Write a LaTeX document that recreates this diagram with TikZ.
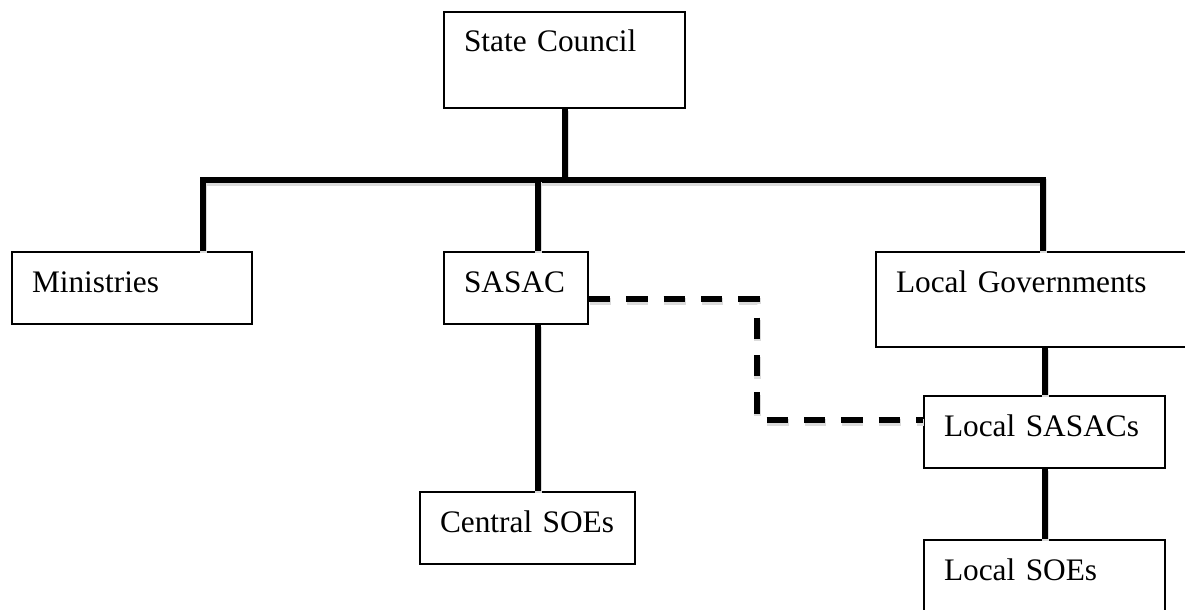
\documentclass[tikz,border=0pt]{standalone}
\usepackage{fontspec}
\setmainfont{Liberation Serif}

\tikzset{every picture/.style={line width=0.75pt}}
\tikzset{
  orgbox/.style={draw, line width=1.5pt, anchor=north west, align=left,
    inner xsep=15pt, inner ysep=0pt, text height=30pt,
    font=\fontsize{23.5}{28}\selectfont},
  linkline/.style={line width=4.5pt,
    preaction={draw, black!14, line width=5pt, transform canvas={shift={(0.6pt,-1.8pt)}}}},
  dashlink/.style={line width=4.5pt, dash pattern={on 16pt off 12pt},
    preaction={draw, black!14, line width=5pt, dash pattern={on 16pt off 12pt},
      transform canvas={shift={(0.6pt,-1.8pt)}}}}
}

\begin{document}
\begin{tikzpicture}[x=0.75pt,y=0.75pt,yscale=-1,xscale=1]
\clip (0,0) rectangle (1185,610); %set diagram size to 1185 x 610

% Text Node
\node[orgbox, text width=150.75pt, text depth=42pt] (council) at (443,11) {\mbox{State Council}};
% Text Node
\node[orgbox, text width=150pt, text depth=24pt] (ministries) at (11,251) {\mbox{Ministries}};
% Text Node
\node[orgbox, text width=78pt, text depth=24pt] (sasac) at (443,251) {\mbox{SASAC}};
% Text Node
\node[orgbox, text width=131pt, text depth=24pt] (central) at (419,491) {\mbox{Central SOEs}};
% Text Node
\node[orgbox, text width=222pt, text depth=41.25pt] (localgov) at (875,251) {\mbox{Local Governments}};
% Text Node
\node[orgbox, text width=150.75pt, text depth=24pt] (lsasac) at (923,395) {\mbox{Local SASACs}};
% Text Node
\node[orgbox, text width=150.75pt, text depth=42pt] (lsoe) at (923,539) {\mbox{Local SOEs}};

% Bar points
\coordinate (barL) at (203,180);
\coordinate (barM) at (538,180);
\coordinate (barR) at (1043,180);
\coordinate (dbend) at (757,299);

%Straight Lines
\draw[linkline] (council.south) -- (council.south |- barM);
\draw[linkline] (barL |- ministries.north) -- (barL) -- (barR) -- (barR |- localgov.north);
\draw[linkline] (barM) -- (barM |- sasac.north);
\draw[linkline] (barM |- sasac.south) -- (barM |- central.north);
\draw[linkline] (lsasac.north |- localgov.south) -- (lsasac.north);
\draw[linkline] (lsasac.south) -- (lsoe.north);
%Dashed Lines
\draw[dashlink] (sasac.east |- dbend) -- (dbend) |- ([yshift=-9pt]lsasac.west);

\end{tikzpicture}
\end{document}
